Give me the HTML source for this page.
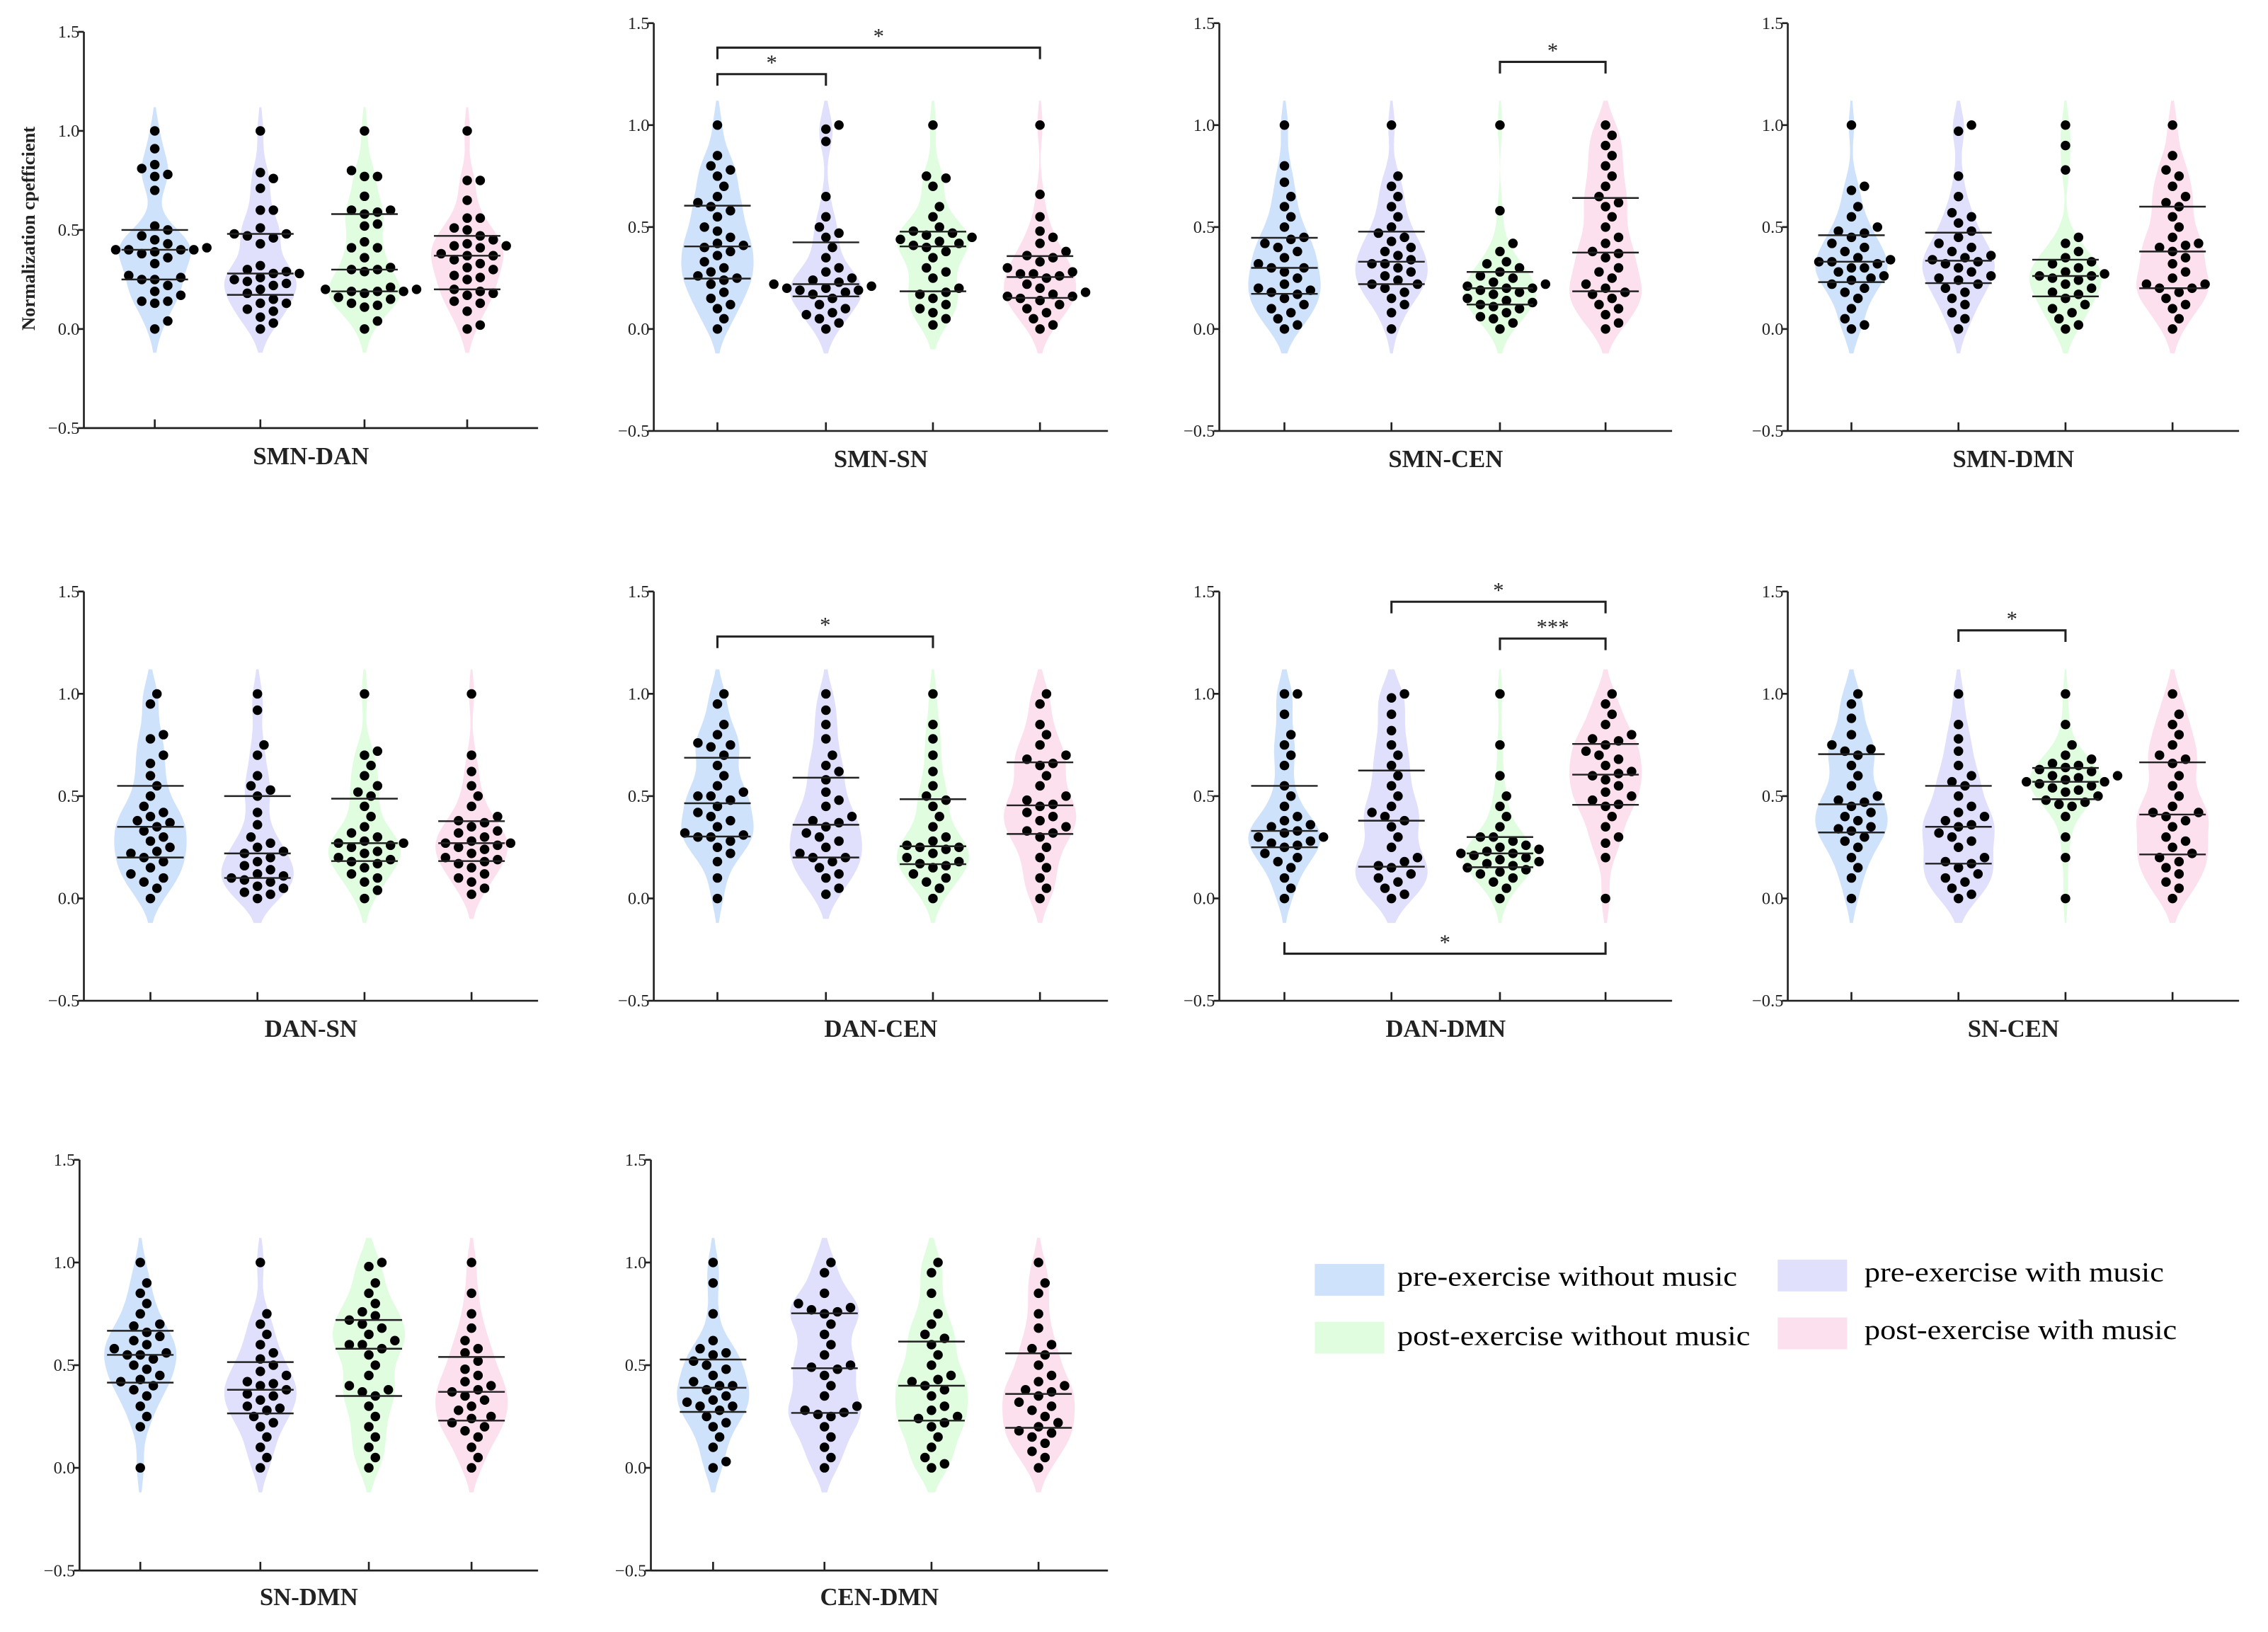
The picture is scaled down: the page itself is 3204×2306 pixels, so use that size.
<!DOCTYPE html>
<html><head><meta charset="utf-8">
<style>
html,body{margin:0;padding:0;background:#fff;}
svg{display:block;}
text{font-family:"Liberation Serif",serif;}
</style></head>
<body>
<svg id="fig" width="3204" height="2306" viewBox="0 0 1568 1128.5" xmlns="http://www.w3.org/2000/svg">
<rect width="1568" height="1128.5" fill="#fff"/>
<g id="legend">
  <rect x="909" y="874" width="48" height="22" fill="#cfe2fb"/>
  <text x="966" y="889" font-size="19" textLength="235" lengthAdjust="spacingAndGlyphs">pre-exercise without music</text>
  <rect x="1229" y="871" width="48" height="22" fill="#e0e0fd"/>
  <text x="1289" y="886" font-size="19" textLength="207" lengthAdjust="spacingAndGlyphs">pre-exercise with music</text>
  <rect x="909" y="914" width="48" height="22" fill="#e0fde0"/>
  <text x="966" y="930" font-size="19" textLength="244" lengthAdjust="spacingAndGlyphs">post-exercise without music</text>
  <rect x="1229" y="911" width="48" height="22" fill="#fde0ee"/>
  <text x="1289" y="926" font-size="19" textLength="216" lengthAdjust="spacingAndGlyphs">post-exercise with music</text>
</g>
</svg>
<script>
const colors = ["#cfe2fb","#e0e0fd","#e0fde0","#fde0ee"];
const panelNames = ["SMN-DAN","SMN-SN","SMN-CEN","SMN-DMN","DAN-SN","DAN-CEN","DAN-DMN","SN-CEN","SN-DMN","CEN-DMN"];
const yTicks = [1.5,1.0,0.5,0.0,-0.5];
const yTickLabels = ["1.5","1.0","0.5","0.0","\u22120.5"];

const d_SMN_DAN = [
[1.0,0.91,0.83,0.81,0.78,0.77,0.7,0.52,0.5,0.47,0.45,0.43,0.41,0.4,0.4,0.4,0.4,0.39,0.38,0.36,0.33,0.27,0.26,0.25,0.25,0.22,0.19,0.17,0.14,0.13,0.14,0.04,0.0],
[1.0,0.79,0.76,0.71,0.6,0.6,0.51,0.48,0.48,0.47,0.46,0.43,0.32,0.3,0.29,0.28,0.28,0.26,0.25,0.24,0.23,0.22,0.2,0.18,0.15,0.13,0.13,0.1,0.09,0.06,0.03,0.0],
[1.0,0.8,0.77,0.77,0.67,0.6,0.6,0.59,0.58,0.52,0.53,0.44,0.41,0.41,0.36,0.31,0.3,0.3,0.29,0.21,0.2,0.2,0.19,0.19,0.19,0.18,0.16,0.15,0.13,0.12,0.11,0.04,0.0],
[1.0,0.75,0.75,0.65,0.56,0.56,0.51,0.5,0.47,0.45,0.43,0.42,0.42,0.41,0.38,0.37,0.37,0.35,0.33,0.31,0.3,0.27,0.26,0.25,0.2,0.19,0.18,0.17,0.14,0.13,0.09,0.02,0.0]];
const d_SMN_SN = [
[1.0,0.85,0.8,0.78,0.75,0.7,0.65,0.62,0.6,0.58,0.55,0.5,0.48,0.45,0.42,0.41,0.4,0.38,0.36,0.33,0.3,0.28,0.26,0.25,0.24,0.22,0.18,0.15,0.12,0.1,0.05,0.0],
[1.0,0.98,0.92,0.65,0.55,0.5,0.47,0.45,0.4,0.35,0.3,0.28,0.25,0.24,0.23,0.22,0.21,0.2,0.2,0.19,0.19,0.18,0.17,0.15,0.12,0.1,0.08,0.07,0.05,0.03,0.0],
[1.0,0.75,0.74,0.7,0.6,0.55,0.5,0.48,0.47,0.46,0.45,0.44,0.43,0.42,0.41,0.4,0.38,0.35,0.3,0.28,0.25,0.2,0.18,0.17,0.15,0.12,0.1,0.08,0.05,0.02],
[1.0,0.66,0.55,0.48,0.45,0.42,0.38,0.36,0.35,0.33,0.3,0.28,0.27,0.27,0.26,0.25,0.22,0.2,0.18,0.17,0.16,0.16,0.15,0.14,0.12,0.1,0.08,0.05,0.02,0.0]];
const d_SMN_CEN = [
[1.0,0.8,0.72,0.65,0.6,0.55,0.5,0.45,0.44,0.42,0.4,0.38,0.35,0.32,0.3,0.3,0.28,0.25,0.22,0.2,0.19,0.18,0.17,0.15,0.12,0.1,0.08,0.05,0.02,0.0],
[1.0,0.75,0.7,0.65,0.6,0.55,0.5,0.47,0.45,0.43,0.4,0.38,0.36,0.34,0.32,0.32,0.3,0.28,0.26,0.24,0.22,0.22,0.2,0.18,0.15,0.12,0.08,0.0],
[1.0,0.58,0.42,0.38,0.33,0.32,0.3,0.28,0.26,0.25,0.23,0.22,0.21,0.2,0.2,0.19,0.18,0.17,0.15,0.14,0.13,0.12,0.11,0.1,0.08,0.06,0.05,0.03,0.0],
[1.0,0.95,0.9,0.85,0.8,0.75,0.7,0.65,0.62,0.6,0.55,0.5,0.45,0.42,0.38,0.37,0.35,0.3,0.28,0.25,0.22,0.2,0.18,0.17,0.15,0.12,0.1,0.07,0.03,0.0]];
const d_SMN_DMN = [
[1.0,0.7,0.68,0.6,0.55,0.5,0.48,0.47,0.45,0.42,0.4,0.38,0.35,0.34,0.33,0.33,0.32,0.3,0.3,0.28,0.26,0.25,0.24,0.22,0.2,0.18,0.15,0.1,0.05,0.02,0.0],
[1.0,0.97,0.75,0.65,0.57,0.55,0.52,0.48,0.45,0.42,0.4,0.38,0.36,0.35,0.34,0.33,0.32,0.3,0.28,0.26,0.25,0.24,0.22,0.2,0.18,0.15,0.12,0.08,0.05,0.0],
[1.0,0.9,0.78,0.45,0.42,0.38,0.35,0.33,0.32,0.3,0.28,0.27,0.26,0.26,0.25,0.24,0.22,0.2,0.18,0.17,0.15,0.12,0.1,0.08,0.05,0.02,0.0],
[1.0,0.85,0.78,0.75,0.7,0.65,0.62,0.6,0.55,0.5,0.45,0.42,0.41,0.4,0.38,0.35,0.32,0.28,0.25,0.22,0.22,0.2,0.2,0.18,0.15,0.12,0.1,0.05,0.0]];
const d_DAN_SN = [
[1.0,0.95,0.8,0.78,0.7,0.66,0.6,0.55,0.5,0.45,0.42,0.4,0.38,0.37,0.35,0.33,0.3,0.28,0.25,0.23,0.22,0.2,0.18,0.15,0.12,0.1,0.08,0.05,0.0],
[1.0,0.92,0.75,0.7,0.6,0.55,0.53,0.5,0.42,0.36,0.3,0.27,0.25,0.23,0.22,0.2,0.18,0.16,0.14,0.12,0.11,0.1,0.09,0.08,0.06,0.05,0.03,0.02,0.0],
[1.0,0.72,0.7,0.65,0.6,0.55,0.52,0.5,0.45,0.4,0.35,0.32,0.3,0.28,0.27,0.27,0.26,0.25,0.23,0.22,0.2,0.19,0.18,0.17,0.15,0.12,0.1,0.08,0.04,0.0],
[1.0,0.7,0.62,0.55,0.5,0.45,0.4,0.38,0.37,0.35,0.33,0.32,0.3,0.28,0.27,0.27,0.26,0.25,0.24,0.22,0.2,0.19,0.18,0.17,0.15,0.12,0.1,0.08,0.05,0.02]];
const d_DAN_CEN = [
[1.0,0.95,0.85,0.8,0.76,0.75,0.74,0.7,0.65,0.6,0.55,0.52,0.5,0.5,0.48,0.45,0.42,0.4,0.38,0.35,0.32,0.31,0.3,0.3,0.28,0.25,0.22,0.18,0.1,0.0],
[1.0,0.92,0.85,0.78,0.7,0.65,0.62,0.58,0.52,0.48,0.45,0.4,0.38,0.37,0.35,0.32,0.3,0.28,0.25,0.22,0.2,0.2,0.18,0.15,0.12,0.1,0.05,0.02],
[1.0,0.85,0.78,0.7,0.62,0.55,0.5,0.48,0.45,0.4,0.35,0.3,0.28,0.26,0.25,0.25,0.24,0.22,0.2,0.18,0.17,0.16,0.15,0.12,0.1,0.08,0.05,0.0],
[1.0,0.95,0.85,0.8,0.75,0.7,0.68,0.66,0.65,0.6,0.55,0.5,0.48,0.46,0.45,0.42,0.4,0.38,0.35,0.33,0.32,0.3,0.25,0.2,0.15,0.1,0.05,0.0]];
const d_DAN_DMN = [
[1.0,1.0,0.9,0.8,0.75,0.7,0.65,0.55,0.5,0.45,0.4,0.38,0.36,0.35,0.33,0.32,0.3,0.3,0.28,0.27,0.26,0.25,0.22,0.2,0.18,0.15,0.1,0.05,0.0],
[1.0,0.98,0.9,0.82,0.75,0.7,0.65,0.6,0.55,0.5,0.45,0.42,0.4,0.38,0.35,0.3,0.25,0.2,0.18,0.16,0.15,0.12,0.1,0.08,0.05,0.02,0.0],
[1.0,0.75,0.6,0.5,0.45,0.4,0.35,0.3,0.3,0.28,0.26,0.25,0.24,0.23,0.22,0.22,0.21,0.2,0.19,0.18,0.17,0.16,0.15,0.14,0.13,0.12,0.1,0.08,0.05,0.0],
[1.0,0.95,0.9,0.85,0.8,0.78,0.77,0.75,0.72,0.7,0.68,0.65,0.62,0.61,0.6,0.58,0.55,0.52,0.5,0.48,0.46,0.45,0.4,0.35,0.3,0.27,0.2,0.0]];
const d_SN_CEN = [
[1.0,0.95,0.88,0.8,0.75,0.73,0.72,0.7,0.65,0.6,0.55,0.5,0.48,0.47,0.45,0.42,0.4,0.38,0.35,0.34,0.33,0.3,0.28,0.25,0.2,0.15,0.1,0.0],
[1.0,0.85,0.78,0.72,0.65,0.6,0.57,0.55,0.5,0.45,0.42,0.4,0.38,0.36,0.35,0.32,0.3,0.28,0.25,0.2,0.18,0.17,0.15,0.12,0.1,0.08,0.05,0.02,0.0],
[1.0,0.85,0.75,0.7,0.68,0.66,0.65,0.64,0.63,0.62,0.6,0.6,0.59,0.58,0.57,0.57,0.56,0.55,0.54,0.53,0.52,0.5,0.48,0.47,0.46,0.45,0.4,0.3,0.2,0.0],
[1.0,0.9,0.85,0.8,0.75,0.7,0.68,0.66,0.6,0.55,0.5,0.45,0.42,0.42,0.4,0.38,0.35,0.3,0.28,0.25,0.22,0.2,0.18,0.15,0.12,0.08,0.05,0.0]];
const d_SN_DMN = [
[1.0,0.9,0.85,0.8,0.75,0.7,0.69,0.66,0.64,0.62,0.6,0.58,0.56,0.55,0.55,0.53,0.5,0.48,0.45,0.43,0.42,0.4,0.38,0.35,0.3,0.25,0.2,0.0],
[1.0,0.75,0.7,0.65,0.6,0.56,0.53,0.5,0.47,0.45,0.42,0.41,0.4,0.38,0.36,0.35,0.33,0.3,0.29,0.28,0.25,0.22,0.2,0.15,0.1,0.05,0.0],
[1.0,0.98,0.9,0.85,0.8,0.76,0.74,0.72,0.7,0.68,0.65,0.62,0.6,0.6,0.58,0.55,0.5,0.45,0.4,0.38,0.37,0.35,0.3,0.25,0.2,0.15,0.1,0.05,0.0],
[1.0,0.85,0.75,0.68,0.62,0.58,0.56,0.52,0.48,0.45,0.42,0.4,0.38,0.37,0.35,0.33,0.3,0.28,0.25,0.24,0.22,0.2,0.18,0.15,0.1,0.05,0.0]];
const d_CEN_DMN = [
[1.0,0.9,0.75,0.62,0.58,0.56,0.55,0.52,0.5,0.48,0.45,0.42,0.4,0.4,0.38,0.35,0.33,0.32,0.3,0.3,0.28,0.25,0.22,0.2,0.15,0.1,0.03,0.0],
[1.0,0.95,0.85,0.8,0.78,0.77,0.76,0.75,0.7,0.65,0.6,0.55,0.5,0.49,0.48,0.45,0.4,0.35,0.3,0.28,0.27,0.26,0.25,0.2,0.15,0.1,0.05,0.0],
[1.0,0.95,0.85,0.75,0.7,0.65,0.63,0.6,0.55,0.5,0.45,0.43,0.42,0.4,0.38,0.35,0.3,0.28,0.25,0.24,0.22,0.2,0.15,0.1,0.05,0.02,0.0],
[1.0,0.9,0.85,0.75,0.68,0.6,0.58,0.55,0.5,0.45,0.42,0.4,0.38,0.37,0.35,0.32,0.3,0.28,0.25,0.22,0.2,0.18,0.17,0.15,0.12,0.08,0.05,0.0]];
const panelData = [d_SMN_DAN,d_SMN_SN,d_SMN_CEN,d_SMN_DMN,d_DAN_SN,d_DAN_CEN,d_DAN_DMN,d_SN_CEN,d_SN_DMN,d_CEN_DMN];
const sigPanel = [1,1,2,5,6,6,6,7];
const sigA = [0,0,2,0,1,2,0,1];
const sigB = [1,3,3,2,3,3,3,2];
const sigLabel = ["*","*","*","*","*","***","*","*"];
const sigLevel = [1.25,1.38,1.31,1.28,1.45,1.27,-0.27,1.31];

const layout = [
 {ax:58,y15:22,ym:296,cats:[107,180,252,323],xe:372,ly:321},
 {ax:452,y15:16,ym:298,cats:[496,571,645,719],xe:766,ly:323},
 {ax:843,y15:16,ym:298,cats:[888,962,1037,1110],xe:1156,ly:323},
 {ax:1236,y15:16,ym:298,cats:[1280,1354,1428,1502],xe:1548,ly:323},
 {ax:58,y15:409,ym:692,cats:[104,178,252,326],xe:372,ly:717},
 {ax:452,y15:409,ym:692,cats:[496,571,645,719],xe:766,ly:717},
 {ax:843,y15:409,ym:692,cats:[888,962,1037,1110],xe:1156,ly:717},
 {ax:1236,y15:409,ym:692,cats:[1280,1354,1428,1502],xe:1548,ly:717},
 {ax:55,y15:802,ym:1086,cats:[97,180,255,326],xe:372,ly:1110},
 {ax:450,y15:802,ym:1086,cats:[493,570,644,718],xe:766,ly:1110}
];
const NS="http://www.w3.org/2000/svg";
const svg=document.getElementById('fig');
function mk(tag,attrs,parent){const e=document.createElementNS(NS,tag);for(const k in attrs)e.setAttribute(k,attrs[k]);parent.appendChild(e);return e;}
function quant(arr,q){const s=[...arr].sort((a,b)=>a-b);const p=(s.length-1)*q;const i=Math.floor(p);const f=p-i;return s[i]+(s[Math.min(i+1,s.length-1)]-s[i])*f;}

panelData.forEach((groups,pi)=>{
  const L=layout[pi];
  const yS=v=>L.ym+(v+0.5)/2*(L.y15-L.ym);
  const g=mk('g',{},svg);
  
  
  groups.forEach((vals,gi)=>{
    const cx=L.cats[gi];
    const bw=0.085;const lo=Math.min(...vals)-0.12,hi=Math.max(...vals)+0.12;
    const pts=[];let mx=0;
    for(let k=0;k<=80;k++){const y=lo+(hi-lo)*k/80;let s=0;vals.forEach(v=>{const z=(y-v)/bw;s+=Math.exp(-0.5*z*z);});pts.push([y,s]);if(s>mx)mx=s;}
    let dpath='';
    pts.forEach((p,k)=>{dpath+=(k?'L':'M')+(cx+p[1]/mx*25).toFixed(1)+','+yS(p[0]).toFixed(1);});
    for(let k=pts.length-1;k>=0;k--){dpath+='L'+(cx-pts[k][1]/mx*25).toFixed(1)+','+yS(pts[k][0]).toFixed(1);}
    const vi=mk('path',{d:dpath+'Z',fill:colors[gi]},g);
    
    
    const placed=[];const r=3.3;const sorted=[...vals].sort((a,b)=>a-b);
    sorted.forEach(v=>{
      const y=yS(v);let x=cx;
      for(let o=0;o<40;o++){const off=(o%2?1:-1)*Math.ceil(o/2)*4.5;const tx=cx+off;
        if(placed.every(p=>(p[0]-tx)**2+(p[1]-y)**2>=(2*r+1.6)**2)){x=tx;break;}}
      placed.push([x,y]);
      const c=mk('circle',{cx:x.toFixed(1),cy:y.toFixed(1),r:r,fill:'#000'},g);
      
      
    });
    [0.25,0.5,0.75].forEach(q=>{
      const y=yS(quant(vals,q));
      const ln=mk('line',{x1:cx-23,x2:cx+23,y1:y,y2:y,stroke:'#222','stroke-width':1.2},g);
      
      
    });
  });
  const ya=mk('line',{x1:L.ax,x2:L.ax,y1:L.y15,y2:L.ym,stroke:'#222','stroke-width':1.3},g);
  
  
  const xa=mk('line',{x1:L.ax,x2:L.xe,y1:L.ym,y2:L.ym,stroke:'#222','stroke-width':1.3},g);
  
  
  yTicks.forEach((t,ti)=>{
    const y=yS(t);
    mk('line',{x1:L.ax-4,x2:L.ax,y1:y,y2:y,stroke:'#222','stroke-width':1.3},g);
    const tl=mk('text',{x:L.ax-3,y:y+4,'font-size':12,'text-anchor':'end',fill:'#222'},g);
    tl.textContent=yTickLabels[ti];
    
    
  });
  L.cats.forEach(cx=>mk('line',{x1:cx,x2:cx,y1:L.ym-6,y2:L.ym,stroke:'#222','stroke-width':1.3},g));
  const lab=mk('text',{x:(L.ax+L.xe)/2,y:L.ly,'font-size':17,'font-weight':'bold','text-anchor':'middle',fill:'#222'},g);
  lab.textContent=panelNames[pi];
  
  
  sigPanel.forEach((sp,si)=>{
    if(sp!==pi)return;
    const x1=L.cats[sigA[si]],x2=L.cats[sigB[si]],y=yS(sigLevel[si]);
    const dn=sigLevel[si]>0?8:-8;
    const b=mk('path',{d:`M${x1},${y+dn}L${x1},${y}L${x2},${y}L${x2},${y+dn}`,fill:'none',stroke:'#222','stroke-width':1.5},g);
    
    
    const st=mk('text',{x:(x1+x2)/2,y:y-3,'font-size':15,'text-anchor':'middle',fill:'#222'},g);
    st.textContent=sigLabel[si];
    
    
  });
});
const yl=mk('text',{x:0,y:0,'font-size':13,'font-weight':'bold','text-anchor':'middle',fill:'#222',transform:'translate(24,158) rotate(-90)'},svg);
yl.textContent='Normalization cpefficient';


</script>
</body></html>
